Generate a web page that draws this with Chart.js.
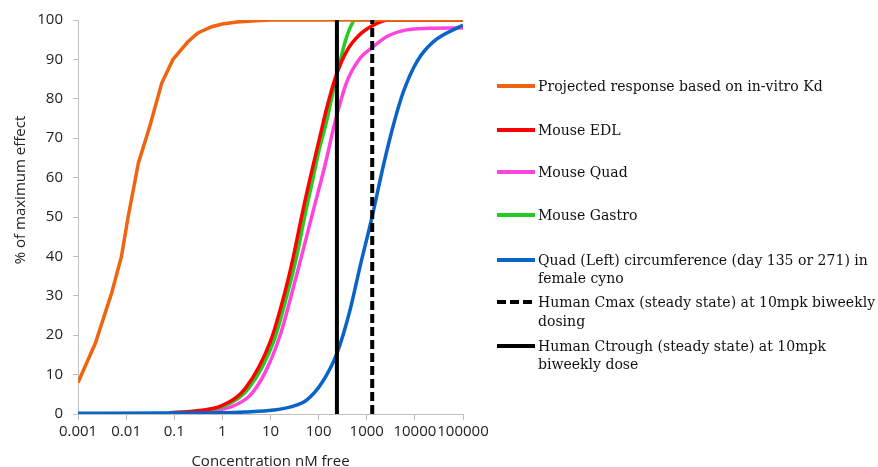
<!DOCTYPE html>
<html lang="en">
<head>
<meta charset="UTF-8" />
<title>Concentration response</title>
<script src="https://cdn.jsdelivr.net/npm/chart.js@4.4.1/dist/chart.umd.min.js"></script>
<style>
  body{margin:0;background:#fff;}
  #wrap{position:relative;width:878px;height:467px;}
  #legend{position:absolute;left:497px;top:0;font-family:"DejaVu Serif",serif;font-stretch:condensed;font-size:15.6px;color:#111;}
  .item{position:absolute;left:0;display:flex;align-items:flex-start;white-space:pre;line-height:18.5px;}
  .item svg{flex:none;margin-top:4px;margin-right:3px;}
</style>
</head>
<body>
<div id="wrap">
  <canvas id="chart" width="878" height="467"></canvas>
  <div id="legend"></div>
</div>
<script>
  // x tick labels (log axis, one per decade)
  const xTicks = [0.001, 0.01, 0.1, 1, 10, 100, 1000, 10000, 100000];
  const xTickLabels = ['0.001','0.01','0.1','1','10','100','1000','10000','100000'];

  // projected response (in-vitro Kd)
  const projX = [0.001, 0.0023, 0.005, 0.008, 0.011, 0.018, 0.031, 0.055, 0.094, 0.19, 0.31, 0.6, 1, 2, 5, 10, 100, 1000, 10000, 100000];
  const projY = [8, 18, 30.7, 40, 50, 63.7, 73, 84, 90, 94.4, 96.7, 98.3, 99, 99.5, 99.8, 100, 100, 100, 100, 100];

  // mouse EDL
  const edlX = [0.08, 0.3, 1, 3, 10, 20, 30, 45, 70, 100, 150, 240, 400, 700, 1200, 2000, 3000, 100000];
  const edlY = [0.3, 0.8, 2.2, 6.5, 18.5, 31, 40, 50.5, 61, 69, 78, 86.5, 92.5, 96.2, 98.3, 99.6, 100, 100];

  // mouse quad
  const quadX = [0.15, 0.5, 1.5, 3.8, 7.7, 16.4, 25.6, 43, 75, 136, 220, 385, 725, 1300, 2630, 6760, 20000, 100000];
  const quadY = [0.3, 0.7, 1.8, 4.8, 10.5, 20.5, 29, 39.5, 51, 63.2, 74.2, 84.3, 90.3, 93, 95.8, 97.5, 97.9, 98];

  // mouse gastro
  const gastroX = [0.094, 0.35, 1.17, 3.5, 11.7, 23, 35, 52, 77, 100, 148, 220, 300, 355, 450, 575, 100000];
  const gastroY = [0.3, 0.8, 2.2, 6.5, 18.5, 31, 40, 50.5, 60, 66.5, 74.5, 84.3, 91, 94.5, 98, 100, 100];

  // cyno quad circumference
  const cynoX = [0.001, 1, 3, 11.5, 30, 57, 115, 240, 450, 725, 1290, 2230, 3590, 5780, 10960, 24400, 100000];
  const cynoY = [0.2, 0.3, 0.5, 1.0, 2.0, 3.6, 7.8, 15.4, 26.4, 37.4, 50, 63.2, 73.4, 81.8, 89.4, 94.5, 98.7];

  // human exposures (nM free)
  const humanCmax = 1300;
  const humanCtrough = 240;

  const xTitle = 'Concentration nM free';
  const yTitle = '% of maximum effect';

  const seriesNames = [
    'Projected response based on in-vitro Kd',
    'Mouse EDL',
    'Mouse Quad',
    'Mouse Gastro',
    'Quad (Left) circumference (day 135 or 271) in\nfemale cyno',
    'Human Cmax (steady state) at 10mpk biweekly\ndosing',
    'Human Ctrough (steady state) at 10mpk\nbiweekly dose'
  ];
  const seriesColors = ['#F0640F', '#FF0000', '#FF44DD', '#22CC22', '#0A64C8', '#000000', '#000000'];
  const legendTops = [86, 130, 172.7, 215, 260, 302.7, 346];

  const pts = (xs, ys) => xs.map((x, i) => ({x: x, y: ys[i]}));

  const curve = (i, data, order, smooth) => ({
    label: seriesNames[i], data: data, borderColor: seriesColors[i], borderWidth: 3.5,
    pointRadius: 0, fill: false, order: order,
    tension: 0, cubicInterpolationMode: smooth ? 'monotone' : 'default'
  });

  const datasets = [
    curve(0, pts(projX, projY), 1, false),
    curve(1, pts(edlX, edlY), 3, true),
    curve(2, pts(quadX, quadY), 5, true),
    curve(3, pts(gastroX, gastroY), 4, true),
    curve(4, pts(cynoX, cynoY), 2, true),
    Object.assign(curve(5, [{x: humanCmax, y: 0}, {x: humanCmax, y: 100}], 0, false), {borderDash: [9, 4], borderWidth: 4}),
    Object.assign(curve(6, [{x: humanCtrough, y: 0}, {x: humanCtrough, y: 100}], 0, false), {borderWidth: 4})
  ];

  const axisFont = {family: '"Open Sans", sans-serif', size: 15};
  const axisGray = '#bfbfbf';

  // y title sits a bit above the plot centre, so it is drawn by hand
  const yTitlePlugin = {
    id: 'yTitle',
    afterDraw(chart) {
      const ctx = chart.ctx;
      ctx.save();
      ctx.translate(21, 190);
      ctx.rotate(-Math.PI / 2);
      ctx.font = '15px "Open Sans", sans-serif';
      ctx.fillStyle = '#222';
      ctx.textAlign = 'center';
      ctx.textBaseline = 'middle';
      ctx.fillText(yTitle, 0, 0);
      ctx.restore();
    }
  };

  new Chart(document.getElementById('chart'), {
    type: 'line',
    data: {datasets: datasets},
    plugins: [yTitlePlugin],
    options: {
      responsive: false,
      animation: false,
      layout: {padding: {top: 20, right: 415, bottom: 0, left: 0}},
      plugins: {legend: {display: false}, tooltip: {enabled: false}},
      scales: {
        x: {
          type: 'logarithmic', min: 0.001, max: 100000,
          afterBuildTicks: s => { s.ticks = xTicks.map(v => ({value: v})); },
          afterFit: s => { s.height = 53; },
          ticks: {font: axisFont, color: '#222', padding: 3, maxRotation: 0, autoSkip: false,
            callback: (v, i) => xTickLabels[i]},
          grid: {drawOnChartArea: false, drawTicks: true, tickLength: 6, color: axisGray},
          border: {color: axisGray},
          title: {display: true, text: xTitle, font: axisFont, color: '#222', padding: {top: 0, bottom: -4}}
        },
        y: {
          min: 0, max: 100,
          afterFit: s => { s.width = 78; },
          ticks: {stepSize: 10, font: axisFont, color: '#222', padding: 10},
          grid: {drawOnChartArea: false, drawTicks: true, tickLength: 5, color: axisGray},
          border: {color: axisGray}
        }
      }
    }
  });

  // legend
  const legend = document.getElementById('legend');
  seriesNames.forEach((name, i) => {
    const item = document.createElement('div');
    item.className = 'item';
    item.style.top = (legendTops[i] - 9.25) + 'px';
    const dash = i === 5 ? ' stroke-dasharray="9 4"' : '';
    item.innerHTML = '<svg width="38" height="10"><line x1="0" y1="5" x2="38" y2="5" stroke="' +
      seriesColors[i] + '" stroke-width="4"' + dash + '/></svg>';
    const span = document.createElement('span');
    span.textContent = name;
    item.appendChild(span);
    legend.appendChild(item);
  });
</script>
</body>
</html>
